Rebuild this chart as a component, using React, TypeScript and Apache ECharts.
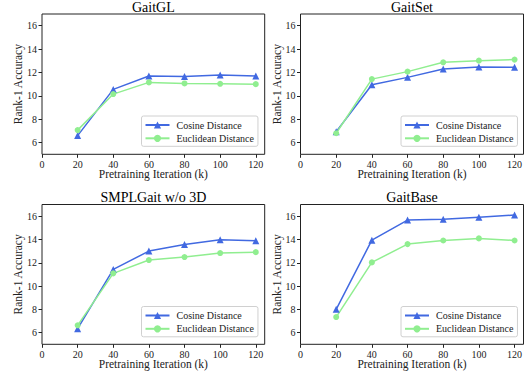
import React, { useEffect, useRef } from "react";
import * as echarts from "echarts";

const iterations = [20, 40, 60, 80, 100, 120];
const xTicks = [0, 20, 40, 60, 80, 100, 120];
const yTicks = [6, 8, 10, 12, 14, 16];

const titles = ["GaitGL", "GaitSet", "SMPLGait w/o 3D", "GaitBase"];
const seriesNames = ["Cosine Distance", "Euclidean Distance"];

const gaitglCos = [6.6, 10.55, 11.7, 11.65, 11.78, 11.7];
const gaitglEuc = [7.07, 10.15, 11.15, 11.06, 11.03, 11.0];
const gaitsetCos = [6.93, 10.95, 11.58, 12.3, 12.47, 12.44];
const gaitsetEuc = [6.8, 11.43, 12.07, 12.87, 13.01, 13.1];
const smplCos = [6.34, 11.43, 13.0, 13.57, 13.97, 13.89];
const smplEuc = [6.63, 11.09, 12.23, 12.49, 12.83, 12.91];
const baseCos = [8.0, 13.94, 15.66, 15.74, 15.91, 16.09];
const baseEuc = [7.34, 12.03, 13.6, 13.91, 14.09, 13.91];

const cosData = [gaitglCos, gaitsetCos, smplCos, baseCos];
const eucData = [gaitglEuc, gaitsetEuc, smplEuc, baseEuc];

const FONT = "Liberation Serif";
const BLUE = "#4169E1";
const GREEN = "#90EE90";
const INK = "#222";

export default function App() {
  const ref = useRef<HTMLDivElement>(null);

  useEffect(() => {
    if (!ref.current) return;
    const chart = echarts.init(ref.current, undefined, { renderer: "svg" });

    const grids = [
      { left: 42, top: 14, width: 222.7, height: 140.3 },
      { left: 300.5, top: 14, width: 223, height: 140.3 },
      { left: 42, top: 204.5, width: 222.7, height: 139.8 },
      { left: 300.5, top: 204.5, width: 223, height: 139.8 },
    ];

    const grid = grids.map((g) => ({
      ...g,
      show: true,
      borderColor: INK,
      borderWidth: 1,
      backgroundColor: "transparent",
      containLabel: false,
    }));

    const xAxis = grids.map((_, i) => ({
      type: "value",
      gridIndex: i,
      min: 0,
      max: 125,
      name: "Pretraining Iteration (k)",
      nameLocation: "middle",
      nameGap: 14,
      nameMoveOverlap: false,
      nameTextStyle: { fontFamily: FONT, fontSize: 11.5, color: INK },
      axisLine: { show: false },
      axisTick: {
        show: true,
        inside: false,
        length: 3.5,
        customValues: xTicks,
        lineStyle: { color: INK, width: 1 },
      },
      axisLabel: {
        customValues: xTicks,
        fontFamily: FONT,
        fontSize: 10,
        color: INK,
        margin: 5,
      },
      splitLine: { show: false },
    }));

    const yAxis = grids.map((_, i) => ({
      type: "value",
      gridIndex: i,
      min: 5,
      max: 17,
      name: "Rank-1 Accuracy",
      nameLocation: "middle",
      nameGap: 18,
      nameMoveOverlap: false,
      nameTextStyle: { fontFamily: FONT, fontSize: 11.5, color: INK },
      axisLine: { show: false },
      axisTick: {
        show: true,
        inside: false,
        length: 3.5,
        customValues: yTicks,
        lineStyle: { color: INK, width: 1 },
      },
      axisLabel: {
        customValues: yTicks,
        fontFamily: FONT,
        fontSize: 10,
        color: INK,
        margin: 5,
      },
      splitLine: { show: false },
    }));

    const series: any[] = [];
    for (let i = 0; i < 4; i++) {
      series.push({
        name: seriesNames[0],
        type: "line",
        xAxisIndex: i,
        yAxisIndex: i,
        data: iterations.map((x, k) => [x, cosData[i][k]]),
        symbol: "triangle",
        symbolSize: 7,
        itemStyle: { color: BLUE },
        lineStyle: { color: BLUE, width: 1.5 },
      });
      series.push({
        name: seriesNames[1],
        type: "line",
        xAxisIndex: i,
        yAxisIndex: i,
        data: iterations.map((x, k) => [x, eucData[i][k]]),
        symbol: "circle",
        symbolSize: 6,
        itemStyle: { color: GREEN },
        lineStyle: { color: GREEN, width: 1.5 },
      });
    }

    const legendPos = [
      { left: 141.5, top: 116 },
      { left: 401, top: 116 },
      { left: 141.5, top: 306.5 },
      { left: 401, top: 306.5 },
    ];

    const legend = legendPos.map((p) => ({
      ...p,
      orient: "vertical",
      data: seriesNames,
      padding: [4, 4, 3, 3],
      itemGap: 3.3,
      itemWidth: 24,
      itemHeight: 9,
      borderColor: "#d0d0d0",
      borderWidth: 1,
      borderRadius: 2,
      backgroundColor: "rgba(255,255,255,0.8)",
      textStyle: {
        fontFamily: FONT,
        fontSize: 10,
        color: INK,
        padding: [0, 0, 0, 2],
      },
      selectedMode: false,
    }));

    const title = grids.map((g, i) => ({
      text: titles[i],
      left: g.left + g.width / 2,
      top: i < 2 ? 0 : 190.5,
      textAlign: "center",
      padding: 0,
      textStyle: {
        fontFamily: FONT,
        fontSize: 14,
        fontWeight: "normal",
        color: "#000",
      },
    }));

    chart.setOption({
      animation: false,
      backgroundColor: "#fff",
      textStyle: { fontFamily: FONT },
      title,
      grid,
      xAxis,
      yAxis,
      legend,
      series,
    } as any);

    return () => chart.dispose();
  }, []);

  return (
    <div
      ref={ref}
      style={{ position: "fixed", left: 0, top: 0, width: 532, height: 373 }}
    />
  );
}
